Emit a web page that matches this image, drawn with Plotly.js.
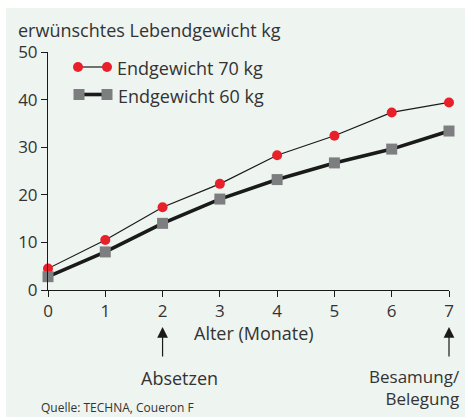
<!DOCTYPE html>
<html>
<head>
<meta charset="utf-8">
<script src="https://cdn.plot.ly/plotly-3.0.1.min.js"></script>
<style>
  html, body { margin: 0; padding: 0; background: #ffffff; width: 465px; height: 417px; overflow: hidden; }
  #chart { position: absolute; left: 6px; top: 8px; width: 459px; height: 409px; }
</style>
</head>
<body>
<div id="chart"></div>
<script>
// ---- data ----
var months = [0, 1, 2, 3, 4, 5, 6, 7];
var weight70 = [4.5, 10.5, 17.4, 22.3, 28.3, 32.4, 37.3, 39.4];
var weight60 = [2.8, 8.0, 14.0, 19.1, 23.2, 26.7, 29.6, 33.4];
var seriesNames = ["Endgewicht 70 kg", "Endgewicht 60 kg"];
var yTicks = [0, 10, 20, 30, 40, 50];
var xTicks = [0, 1, 2, 3, 4, 5, 6, 7];
var yTitle = "erwünschtes Lebendgewicht kg";
var xTitle = "Alter (Monate)";
var eventMonths = [2, 7];
var eventLabels = ["Absetzen", "Besamung/<br>Belegung"];
var sourceText = "Quelle: TECHNA, Coueron F";

var textColor = "#333333";
var font = "'Open Sans', 'Noto Sans', sans-serif";

var traces = [
  {
    x: months, y: weight70, name: seriesNames[0], type: "scatter", mode: "lines+markers",
    line: { color: "#1a1a1a", width: 1.2 },
    marker: { color: "#e8202a", size: 10, symbol: "circle" },
    cliponaxis: false, showlegend: false
  },
  {
    x: months, y: weight60, name: seriesNames[1], type: "scatter", mode: "lines+markers",
    line: { color: "#1a1a1a", width: 3.6 },
    marker: { color: "#7d7e80", size: 11, symbol: "square" },
    cliponaxis: false, showlegend: false
  }
];

// helpers: pixel-ish positions to paper coords (plot area 401 x 238)
function px(x) { return (x - 48) / 401; }
function py(y) { return (290 - y) / 238; }

var annotations = [
  { text: yTitle, xref: "paper", yref: "paper", x: px(16), y: py(30), xanchor: "left", yanchor: "middle", showarrow: false, font: { size: 18, color: textColor, family: font } },
  { text: xTitle, xref: "paper", yref: "paper", x: px(254.5), y: py(333), xanchor: "center", yanchor: "middle", showarrow: false, font: { size: 18, color: textColor, family: font } },
  { text: seriesNames[0], xref: "paper", yref: "paper", x: px(115), y: py(68), xanchor: "left", yanchor: "middle", showarrow: false, font: { size: 18, color: textColor, family: font } },
  { text: seriesNames[1], xref: "paper", yref: "paper", x: px(116), y: py(96), xanchor: "left", yanchor: "middle", showarrow: false, font: { size: 18, color: textColor, family: font } },
  { text: eventLabels[0], xref: "paper", yref: "paper", x: px(179), y: py(378), xanchor: "center", yanchor: "middle", showarrow: false, font: { size: 18, color: textColor, family: font } },
  { text: eventLabels[1], xref: "paper", yref: "paper", x: px(462), y: py(388), xanchor: "right", yanchor: "middle", align: "right", showarrow: false, font: { size: 17, color: textColor, family: font } },
  { text: sourceText, xref: "paper", yref: "paper", x: px(39), y: py(407), xanchor: "left", yanchor: "middle", showarrow: false, font: { size: 12, color: textColor, family: font } }
];
eventMonths.forEach(function (m) {
  annotations.push({
    text: "", x: m, xref: "x", yref: "paper", y: py(327), showarrow: true,
    ax: 0, ay: 31, arrowhead: 2, arrowsize: 1.8, arrowwidth: 1.2, arrowcolor: "#1a1a1a"
  });
});

var shapes = [
  // legend row 1
  { type: "line", xref: "paper", yref: "paper", x0: px(78), x1: px(107), y0: py(67), y1: py(67), line: { color: "#1a1a1a", width: 1.2 } },
  { type: "circle", xref: "paper", yref: "paper", xsizemode: "pixel", ysizemode: "pixel", xanchor: px(78), yanchor: py(67), x0: -5, x1: 5, y0: -5, y1: 5, fillcolor: "#e8202a", line: { width: 0 } },
  { type: "circle", xref: "paper", yref: "paper", xsizemode: "pixel", ysizemode: "pixel", xanchor: px(107), yanchor: py(67), x0: -5, x1: 5, y0: -5, y1: 5, fillcolor: "#e8202a", line: { width: 0 } },
  // legend row 2
  { type: "line", xref: "paper", yref: "paper", x0: px(79), x1: px(107), y0: py(94.5), y1: py(94.5), line: { color: "#1a1a1a", width: 3.6 } },
  { type: "rect", xref: "paper", yref: "paper", xsizemode: "pixel", ysizemode: "pixel", xanchor: px(79), yanchor: py(94.5), x0: -5.5, x1: 5.5, y0: -5.5, y1: 5.5, fillcolor: "#7d7e80", line: { width: 0 } },
  { type: "rect", xref: "paper", yref: "paper", xsizemode: "pixel", ysizemode: "pixel", xanchor: px(107), yanchor: py(94.5), x0: -5.5, x1: 5.5, y0: -5.5, y1: 5.5, fillcolor: "#7d7e80", line: { width: 0 } }
];

var layout = {
  width: 459, height: 409,
  margin: { l: 42, r: 16, t: 44, b: 127 },
  paper_bgcolor: "#eef4f0", plot_bgcolor: "rgba(0,0,0,0)",
  font: { family: font, color: textColor, size: 17 },
  showlegend: false,
  xaxis: {
    range: [0, 7], tickvals: xTicks, ticktext: xTicks.map(String),
    showgrid: false, zeroline: false, showline: true, linecolor: "#1a1a1a", linewidth: 1,
    ticks: "outside", ticklen: 6, tickcolor: "#1a1a1a", tickwidth: 1,
    tickfont: { size: 17, color: textColor, family: font }, fixedrange: true
  },
  yaxis: {
    range: [0, 50], tickvals: yTicks, ticktext: yTicks.map(String),
    showgrid: false, zeroline: false, showline: true, linecolor: "#1a1a1a", linewidth: 1,
    ticks: "outside", ticklen: 6, tickcolor: "#1a1a1a", tickwidth: 1,
    tickfont: { size: 17, color: textColor, family: font }, fixedrange: true
  },
  annotations: annotations,
  shapes: shapes
};

Plotly.newPlot("chart", traces, layout, { displayModeBar: false, staticPlot: true });
</script>
</body>
</html>
